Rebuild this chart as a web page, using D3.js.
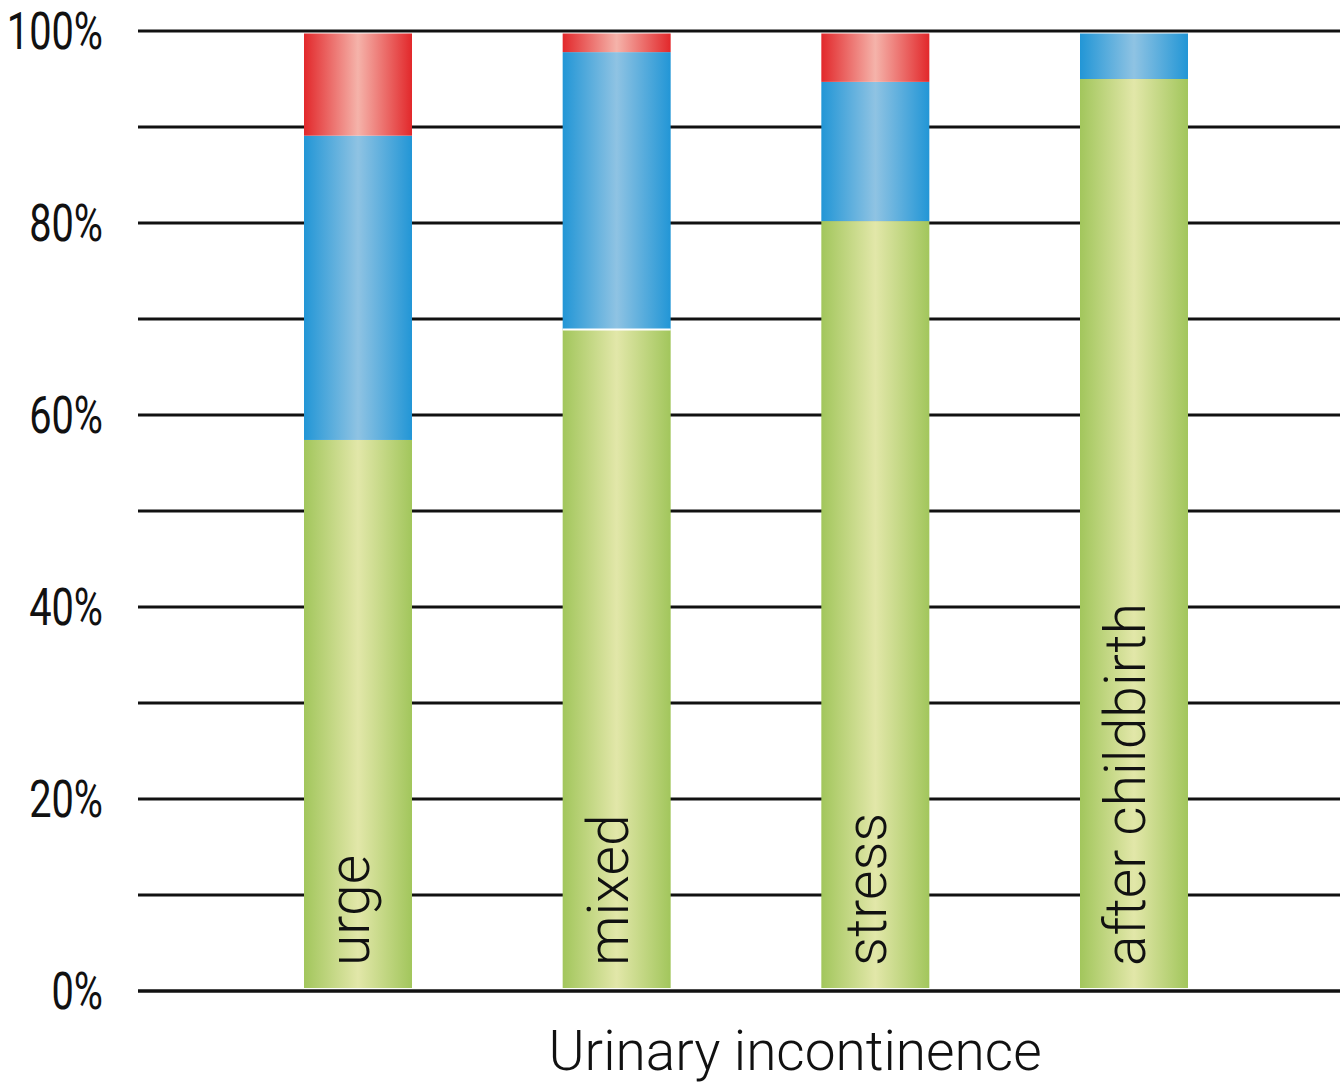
<!DOCTYPE html>
<head>
<meta charset="utf-8">
<script src="https://d3js.org/d3.v7.min.js"></script>
<style>
  body { margin: 0; background: #fff; }
  text { font-family: Roboto, "Noto Sans", sans-serif; }
</style>
</head>
<body>
<svg id="chart" width="1340" height="1083"></svg>
<script>
// values (percent of each bar)
var categories = ["urge", "mixed", "stress", "after childbirth"];
var greenVals = [57.4, 68.9, 80.2, 95.0];
var blueVals  = [31.7, 28.9, 14.5, 5.0];
var redVals   = [10.9, 2.2, 5.3, 0];
var gridTicks = [0, 10, 20, 30, 40, 50, 60, 70, 80, 90, 100];
var labelTicks = [0, 20, 40, 60, 80, 100];
var xTitle = "Urinary incontinence";

var svg = d3.select("#chart");
var y = d3.scaleLinear().domain([0, 100]).range([991, 31]);
var x = d3.scalePoint().domain(categories).range([358, 1134]);
var barW = 108;

// gradients: dark edges, light middle
var defs = svg.append("defs");
function grad(id, edge, mid) {
  var g = defs.append("linearGradient").attr("id", id)
    .attr("x1", "0%").attr("x2", "100%").attr("y1", "0%").attr("y2", "0%");
  g.append("stop").attr("offset", "0%").attr("stop-color", edge);
  g.append("stop").attr("offset", "50%").attr("stop-color", mid);
  g.append("stop").attr("offset", "100%").attr("stop-color", edge);
}
grad("gGreen", "#a2c65c", "#e2e7a9");
grad("gBlue", "#2296d6", "#8fc3e3");
grad("gRed", "#e2282b", "#f5b3aa");

// grid lines
svg.append("g").selectAll("line")
  .data(gridTicks)
  .enter().append("line")
  .attr("x1", 138).attr("x2", 1340)
  .attr("y1", function(d) { return y(d); })
  .attr("y2", function(d) { return y(d); })
  .attr("stroke", "#111")
  .attr("stroke-width", function(d) { return d == 0 ? 3.5 : 3; });

// y labels
svg.append("g").selectAll("text")
  .data(labelTicks)
  .enter().append("text")
  .attr("transform", function(d) { return "translate(103," + (y(d) + 18) + ") scale(0.78,1)"; })
  .attr("text-anchor", "end")
  .attr("font-size", "51px")
  .attr("fill", "#111")
  .text(function(d) { return d + "%"; });

// stacked bars
var series = [
  { vals: greenVals, fill: "url(#gGreen)" },
  { vals: blueVals, fill: "url(#gBlue)" },
  { vals: redVals, fill: "url(#gRed)" }
];
var bars = svg.append("g");
categories.forEach(function(c, i) {
  var base = 0;
  series.forEach(function(s) {
    var v = s.vals[i];
    if (v > 0) {
      var top = base + v;
      var y0 = base == 0 ? y(base) - 3 : y(base);
      var y1 = top >= 100 ? y(top) + 2.5 : y(top);
      bars.append("rect")
        .attr("x", x(c) - barW / 2)
        .attr("width", barW)
        .attr("y", y1)
        .attr("height", y0 - y1)
        .attr("fill", s.fill);
    }
    base += v;
  });
});

// white separator in mixed bar
svg.append("line")
  .attr("x1", x("mixed") - barW / 2).attr("x2", x("mixed") + barW / 2)
  .attr("y1", y(greenVals[1])).attr("y2", y(greenVals[1]))
  .attr("stroke", "#fff").attr("stroke-width", 2);

// category labels inside bars
svg.append("g").selectAll("text")
  .data(categories)
  .enter().append("text")
  .attr("transform", function(d) { return "translate(" + (x(d) + 11) + ",966) rotate(-90)"; })
  .attr("font-size", "57px")
  .attr("font-weight", 300)
  .attr("fill", "#111")
  .text(function(d) { return d; });

// axis title
svg.append("text")
  .attr("x", 795).attr("y", 1070)
  .attr("text-anchor", "middle")
  .attr("font-size", "55px")
  .attr("font-weight", 300)
  .attr("fill", "#111")
  .text(xTitle);
</script>
</body>
</html>
